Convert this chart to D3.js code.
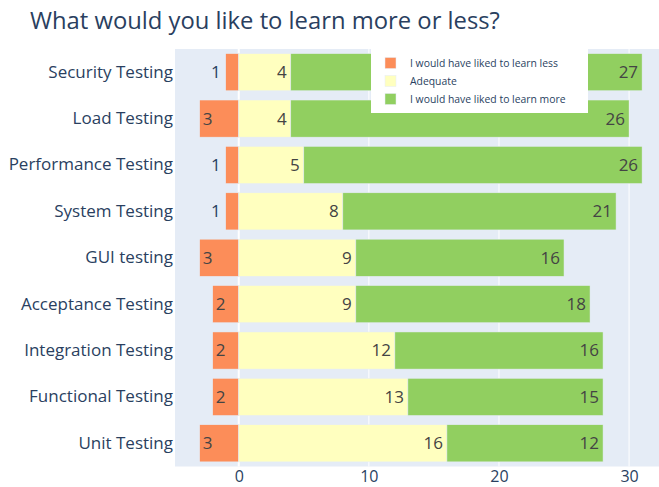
<!DOCTYPE html>
<html>
<head>
<meta charset="utf-8">
<script src="https://cdn.jsdelivr.net/npm/d3@7"></script>
<style>
  body { margin: 0; background: #fff; }
  text { font-family: "Open Sans", sans-serif; }
</style>
</head>
<body>
<div id="chart"></div>
<script>
var categories = ["Security Testing", "Load Testing", "Performance Testing", "System Testing",
  "GUI testing", "Acceptance Testing", "Integration Testing", "Functional Testing", "Unit Testing"];
var learnLess = [1, 3, 1, 1, 3, 2, 2, 2, 3];
var adequate = [4, 4, 5, 8, 9, 9, 12, 13, 16];
var learnMore = [27, 26, 26, 21, 16, 18, 16, 15, 12];
var seriesNames = ["I would have liked to learn less", "Adequate", "I would have liked to learn more"];
var xTicks = [0, 10, 20, 30];

var W = 659, H = 487;
var margin = {top: 49, right: 0, bottom: 20.5, left: 175};

var svg = d3.select("#chart").append("svg")
  .attr("width", W).attr("height", H);

svg.append("text")
  .attr("x", 30).attr("y", 29)
  .attr("font-size", 23.8).attr("fill", "#2a3f5f")
  .text("What would you like to learn more or less?");

var x = d3.scaleLinear().domain([-4.9, 32.3]).range([margin.left, W - margin.right]);
var y = d3.scaleBand().domain(categories)
  .range([margin.top, H - margin.bottom])
  .paddingInner(0.2).paddingOuter(0.1);

// plot background
svg.append("rect")
  .attr("x", margin.left).attr("y", margin.top)
  .attr("width", W - margin.left - margin.right)
  .attr("height", H - margin.top - margin.bottom)
  .attr("fill", "#E5ECF6");

// grid
svg.append("g").selectAll("line").data(xTicks).join("line")
  .attr("x1", d => x(d)).attr("x2", d => x(d))
  .attr("y1", margin.top).attr("y2", H - margin.bottom)
  .attr("stroke", "#fff").attr("stroke-width", d => d === 0 ? 2 : 1);

// x axis
var xAxis = svg.append("g")
  .attr("transform", "translate(0," + (H - margin.bottom) + ")")
  .call(d3.axisBottom(x).tickValues(xTicks).tickSize(0).tickPadding(4.5));
xAxis.select(".domain").remove();
xAxis.selectAll("text").attr("font-size", 16).attr("fill", "#2a3f5f")
  .attr("font-family", "Open Sans, sans-serif");

// y axis
var yAxis = svg.append("g")
  .attr("transform", "translate(" + margin.left + ",0)")
  .call(d3.axisLeft(y).tickSize(0).tickPadding(2));
yAxis.select(".domain").remove();
yAxis.selectAll("text").attr("font-size", 17).attr("fill", "#2a3f5f")
  .attr("font-family", "Open Sans, sans-serif");

var colors = ["#fc8d59", "#ffffbf", "#91cf60"];
var rows = categories.map(function(c, i) {
  var a = adequate[i], m = learnMore[i], l = learnLess[i];
  return [
    {cat: c, x0: -l, x1: 0, v: l, s: 0},
    {cat: c, x0: 0, x1: a, v: a, s: 1},
    {cat: c, x0: a, x1: a + m, v: m, s: 2}
  ];
});
var segs = [].concat.apply([], rows);

var bars = svg.append("g");
bars.selectAll("rect").data(segs).join("rect")
  .attr("x", d => x(d.x0))
  .attr("y", d => y(d.cat))
  .attr("width", d => x(d.x1) - x(d.x0))
  .attr("height", y.bandwidth())
  .attr("fill", d => colors[d.s])
  .attr("stroke", "#E5ECF6").attr("stroke-width", 0.5);

// value labels
var labels = svg.append("g");
segs.forEach(function(d) {
  var t = labels.append("text")
    .attr("font-size", 17)
    .attr("y", y(d.cat) + y.bandwidth() / 2)
    .attr("dy", "0.35em")
    .text(d.v);
  var tw = t.node().getComputedTextLength();
  var bw = x(d.x1) - x(d.x0);
  var inside = tw + 6 <= bw;
  if (d.s === 0) {
    if (inside) t.attr("x", x(d.x0) + 3).attr("text-anchor", "start").attr("fill", "#444");
    else t.attr("x", x(d.x0) - 5).attr("text-anchor", "end").attr("fill", "#2a3f5f");
  } else {
    if (inside) t.attr("x", x(d.x1) - 4).attr("text-anchor", "end").attr("fill", "#444");
    else t.attr("x", x(d.x1) + 3).attr("text-anchor", "start").attr("fill", "#2a3f5f");
  }
});

// legend
var lg = svg.append("g").attr("transform", "translate(371,49)");
lg.append("rect").attr("width", 217).attr("height", 64).attr("fill", "#fff");
seriesNames.forEach(function(n, i) {
  var yy = 14 + i * 18;
  lg.append("rect").attr("x", 14).attr("y", yy - 5.5)
    .attr("width", 11).attr("height", 11)
    .attr("fill", colors[i]).attr("stroke", "#E5ECF6").attr("stroke-width", 0.5);
  lg.append("text").attr("x", 39).attr("y", yy).attr("dy", "0.35em")
    .attr("font-size", 10.4).attr("fill", "#2a3f5f").text(n);
});
</script>
</body>
</html>
